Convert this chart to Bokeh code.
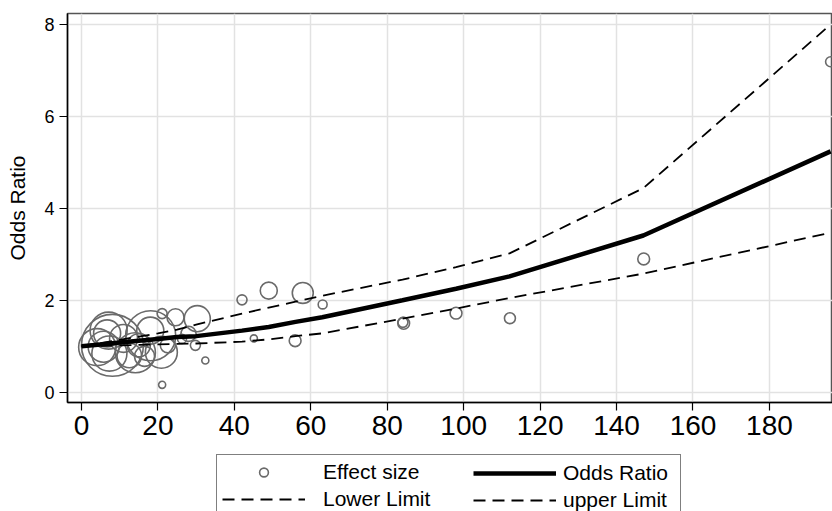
import numpy as np
from bokeh.plotting import figure
from bokeh.layouts import column
from bokeh.models import Range1d, Legend, LegendItem
from bokeh.embed import file_html
from bokeh.resources import INLINE

# ---- data ----
# individual study estimates (dose, odds ratio, relative study weight)
study_dose = [8.1, 18.1, 7.1, 6.7, 11.0, 5.8, 14.1, 18.0, 15.0, 20.9, 22.6, 4.1,
              7.3, 21.1, 24.6, 30.3, 28.0, 29.8, 32.4, 21.1, 26.3, 42.0, 45.1,
              49.0, 57.9, 63.1, 55.9, 84.1, 84.3, 98.0, 112.1, 147.1, 196.0,
              12.5, 16.5]
study_or = [1.02, 1.23, 1.34, 1.28, 1.17, 0.99, 0.86, 1.34, 1.02, 0.87, 1.02, 0.98,
            0.84, 1.71, 1.63, 1.60, 1.27, 1.02, 0.69, 0.16, 1.16, 2.01, 1.17,
            2.21, 2.16, 1.91, 1.12, 1.52, 1.50, 1.72, 1.61, 2.90, 7.19,
            0.80, 0.78]
study_weight = [38.4, 25.0, 13.7, 7.3, 7.8, 9.6, 16.0, 7.3, 5.3, 10.2, 2.3, 13.7,
                12.3, 1.0, 2.9, 6.8, 2.3, 1.0, 0.5, 0.5, 0.8, 1.0, 0.5,
                2.9, 4.4, 0.8, 1.4, 1.0, 1.4, 1.4, 1.2, 1.4, 1.0,
                6.0, 4.0]

# fitted dose-response curve and confidence limits
fit_dose = [0, 5, 10, 15, 20, 25, 30, 42, 49, 56, 63, 84, 98, 112, 147, 196]
fit_or = [1.00, 1.04, 1.08, 1.12, 1.16, 1.20, 1.22, 1.34, 1.42, 1.53, 1.63,
          2.00, 2.25, 2.52, 3.41, 5.24]
fit_lower = [1.00, 1.01, 1.02, 1.03, 1.04, 1.05, 1.06, 1.10, 1.15, 1.22, 1.28,
             1.60, 1.82, 2.05, 2.58, 3.47]
fit_upper = [1.00, 1.07, 1.14, 1.21, 1.28, 1.36, 1.47, 1.71, 1.84, 1.97, 2.10,
             2.45, 2.72, 3.02, 4.44, 8.00]

x_ticks = [0, 20, 40, 60, 80, 100, 120, 140, 160, 180]
y_ticks = [0, 2, 4, 6, 8]

FONT = "Liberation Sans"
CIRCLE_COLOR = "#6a6a6a"

p = figure(width=832, height=454,
           x_range=Range1d(-3.66, 196.5), y_range=Range1d(-0.224, 8.24),
           output_backend="svg", toolbar_location=None,
           min_border_left=67, min_border_right=0, min_border_top=13,
           min_border_bottom=52)
p.background_fill_color = "white"
p.border_fill_color = "white"
p.outline_line_color = "#555555"
p.outline_line_width = 1.5
p.grid.grid_line_color = "#e2e2e2"
p.grid.grid_line_width = 1.5

for ax in (p.xaxis, p.yaxis):
    ax.axis_line_color = "black"
    ax.axis_line_width = 1.5
    ax.major_tick_line_color = "black"
    ax.major_tick_line_width = 1.2
    ax.major_tick_out = 8
    ax.major_tick_in = 0
    ax.minor_tick_out = 0
    ax.minor_tick_in = 0
    ax.major_label_text_font = FONT
    ax.major_label_text_color = "black"

p.xaxis.ticker = x_ticks
p.yaxis.ticker = y_ticks
p.xaxis.major_label_text_font_size = "28px"
p.xaxis.major_label_standoff = 5
p.yaxis.major_label_text_font_size = "18px"
p.yaxis.major_label_standoff = 5
p.yaxis.axis_label = "Odds Ratio"
p.yaxis.axis_label_text_font = FONT
p.yaxis.axis_label_text_font_size = "21px"
p.yaxis.axis_label_text_font_style = "normal"
p.yaxis.axis_label_text_color = "black"
p.yaxis.axis_label_standoff = 12

sizes = [10 * np.sqrt(w) for w in study_weight]


def add_series(fig):
    sc = fig.scatter(study_dose, study_or, size=sizes, marker="circle",
                     fill_color=None, line_color=CIRCLE_COLOR, line_width=1.6)
    lo = fig.line(fit_dose, fit_lower, line_color="black", line_width=1.8,
                  line_dash="12 7")
    up = fig.line(fit_dose, fit_upper, line_color="black", line_width=1.8,
                  line_dash="12 7")
    orl = fig.line(fit_dose, fit_or, line_color="black", line_width=4.5)
    return sc, orl, lo, up


add_series(p)

# legend strip below the plot (same series; its view window shows no data)
leg_fig = figure(width=832, height=57,
                 x_range=Range1d(-3.66, 196.5), y_range=Range1d(100, 101),
                 output_backend="svg", toolbar_location=None,
                 x_axis_location=None, y_axis_location=None,
                 min_border=0, outline_line_color=None)
leg_fig.background_fill_color = "white"
leg_fig.border_fill_color = "white"
leg_fig.grid.visible = False
sc2, orl2, lo2, up2 = add_series(leg_fig)

common = dict(orientation="vertical", margin=0, padding=5, spacing=3,
              glyph_width=83, glyph_height=22, label_height=22, label_width=352,
              label_text_font=FONT, label_text_font_size="21px",
              label_text_color="black", border_line_color="black",
              border_line_width=1)

# left column; its box spans the whole legend
legend_a = Legend(items=[
    LegendItem(label="Effect size", renderers=[sc2]),
    LegendItem(label="Lower Limit", renderers=[lo2]),
], location=(149, -6), label_standoff=18,
    background_fill_color="white", background_fill_alpha=1.0, **common)

# right column, drawn inside the same box
legend_b = Legend(items=[
    LegendItem(label="Odds Ratio", renderers=[orl2]),
    LegendItem(label="upper Limit", renderers=[up2]),
], location=(401, -6), label_standoff=7, border_line_alpha=0.0,
    background_fill_alpha=0.0, **common)

leg_fig.add_layout(legend_a, "center")
leg_fig.add_layout(legend_b, "center")

layout = column(p, leg_fig)
open("out.html", "w").write(file_html(layout, INLINE))
